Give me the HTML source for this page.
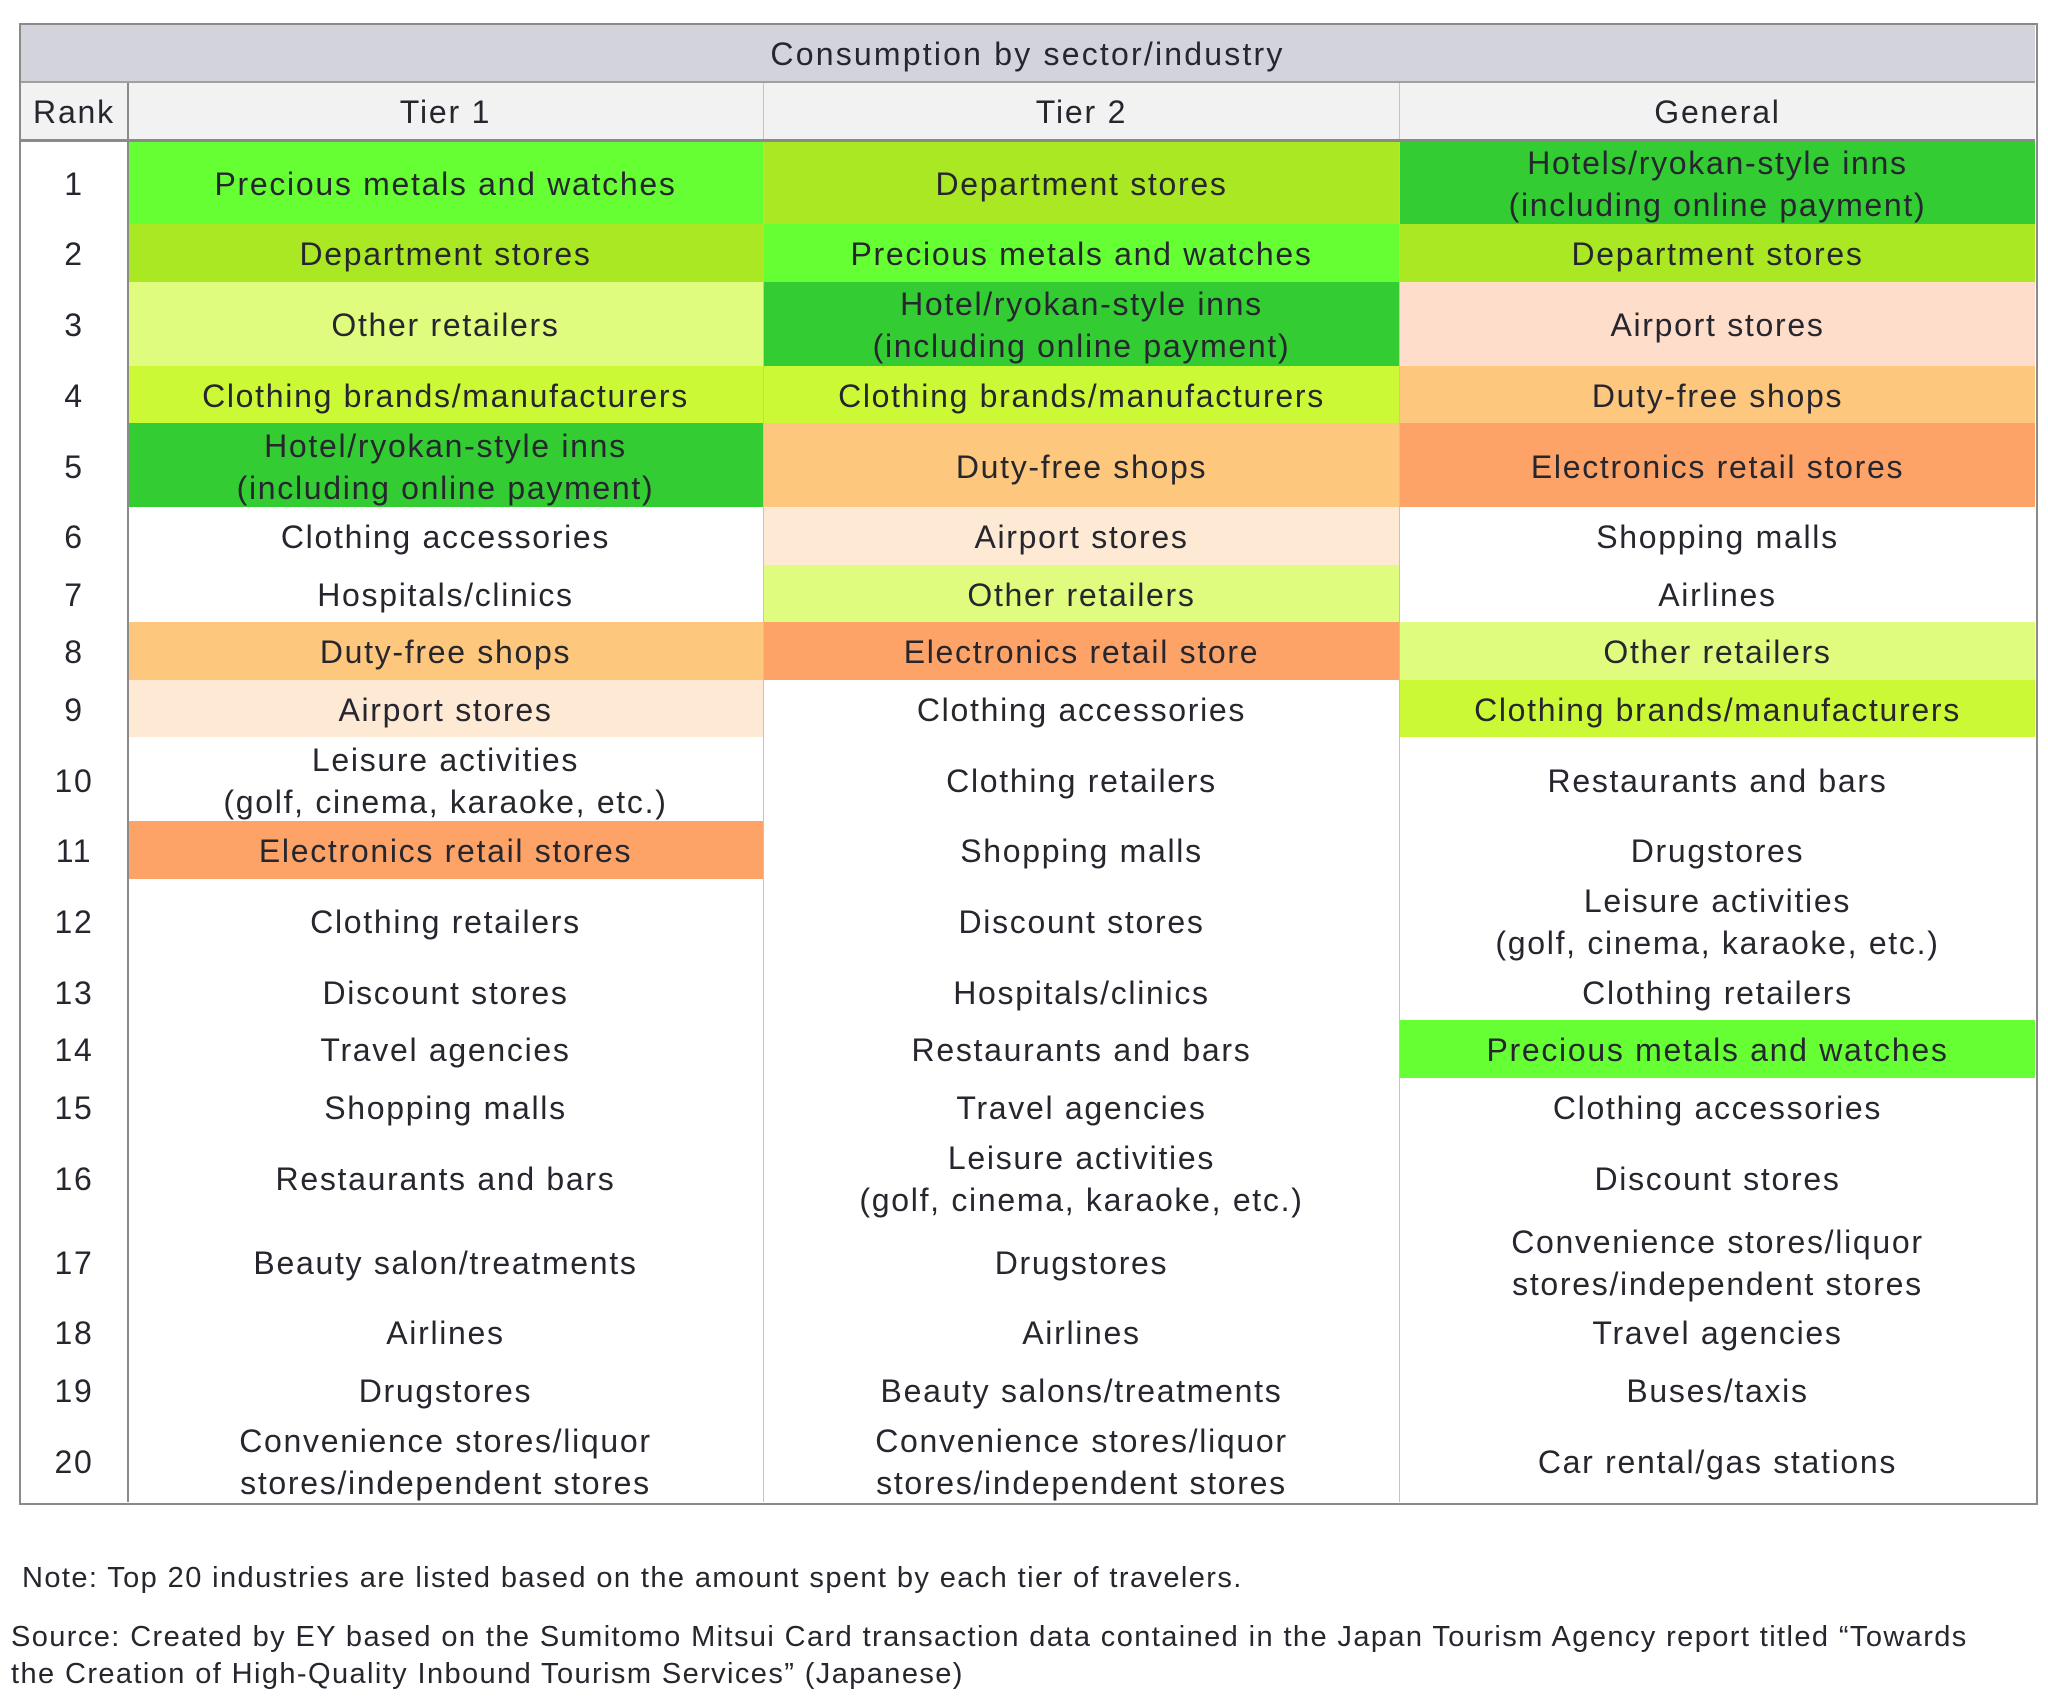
<!DOCTYPE html>
<html><head><meta charset="utf-8"><style>
body{margin:0;width:2048px;height:1702px;background:#fff;font-family:"Liberation Sans",sans-serif;color:#26262e;position:relative;overflow:hidden}
.abs{position:absolute}
.h1{left:20px;top:24px;width:2015px;height:58px;background:#d3d3db;display:flex;align-items:center;justify-content:center;font-size:32px;letter-spacing:2.2px;padding-top:3px;box-sizing:border-box}
.h2{left:20px;top:82px;width:2015px;height:58px;background:#f2f2f2;display:grid;grid-template-columns:108px 635px 637px 635px;font-size:32px;letter-spacing:1.8px;padding-top:3px;box-sizing:border-box}
.h2 div{display:flex;align-items:center;justify-content:center}
.g{left:20px;top:140px;width:2015px;height:1362px;display:grid;grid-template-columns:108px 635px 637px 635px;
grid-template-rows:84px 57.5px 84px 57.5px 84px 57.5px 57.5px 57.5px 57.5px 84px 57.5px 84px 57.5px 57.5px 57.5px 84px 84px 57.5px 57.5px 84px;font-size:32px;letter-spacing:1.7px;line-height:42px}
.g div{display:flex;align-items:center;justify-content:center;text-align:center;padding-top:3px}
.a{background:#66ff33}.b{background:#aae823}.c{background:#dffc7e}.d{background:#ccf935}.e{background:#33cc33}
.f{background:#fec77e}.p{background:#fee9d4}.q{background:#feddca}.o{background:#fea368}
.note{font-size:29px;letter-spacing:1.4px;line-height:37px}
</style></head><body>
<div class="abs h1">Consumption by sector/industry</div>
<div class="abs h2"><div>Rank</div><div>Tier 1</div><div>Tier 2</div><div>General</div></div>
<div class="abs g">
<div>1</div><div class="a">Precious metals and watches</div><div class="b">Department stores</div><div class="e">Hotels/ryokan-style inns<br>(including online payment)</div>
<div>2</div><div class="b">Department stores</div><div class="a">Precious metals and watches</div><div class="b">Department stores</div>
<div>3</div><div class="c">Other retailers</div><div class="e">Hotel/ryokan-style inns<br>(including online payment)</div><div class="q">Airport stores</div>
<div>4</div><div class="d">Clothing brands/manufacturers</div><div class="d">Clothing brands/manufacturers</div><div class="f">Duty-free shops</div>
<div>5</div><div class="e">Hotel/ryokan-style inns<br>(including online payment)</div><div class="f">Duty-free shops</div><div class="o">Electronics retail stores</div>
<div>6</div><div>Clothing accessories</div><div class="p">Airport stores</div><div>Shopping malls</div>
<div>7</div><div>Hospitals/clinics</div><div class="c">Other retailers</div><div>Airlines</div>
<div>8</div><div class="f">Duty-free shops</div><div class="o">Electronics retail store</div><div class="c">Other retailers</div>
<div>9</div><div class="p">Airport stores</div><div>Clothing accessories</div><div class="d">Clothing brands/manufacturers</div>
<div>10</div><div>Leisure activities<br>(golf, cinema, karaoke, etc.)</div><div>Clothing retailers</div><div>Restaurants and bars</div>
<div>11</div><div class="o">Electronics retail stores</div><div>Shopping malls</div><div>Drugstores</div>
<div>12</div><div>Clothing retailers</div><div>Discount stores</div><div>Leisure activities<br>(golf, cinema, karaoke, etc.)</div>
<div>13</div><div>Discount stores</div><div>Hospitals/clinics</div><div>Clothing retailers</div>
<div>14</div><div>Travel agencies</div><div>Restaurants and bars</div><div class="a">Precious metals and watches</div>
<div>15</div><div>Shopping malls</div><div>Travel agencies</div><div>Clothing accessories</div>
<div>16</div><div>Restaurants and bars</div><div>Leisure activities<br>(golf, cinema, karaoke, etc.)</div><div>Discount stores</div>
<div>17</div><div>Beauty salon/treatments</div><div>Drugstores</div><div>Convenience stores/liquor<br>stores/independent stores</div>
<div>18</div><div>Airlines</div><div>Airlines</div><div>Travel agencies</div>
<div>19</div><div>Drugstores</div><div>Beauty salons/treatments</div><div>Buses/taxis</div>
<div>20</div><div>Convenience stores/liquor<br>stores/independent stores</div><div>Convenience stores/liquor<br>stores/independent stores</div><div>Car rental/gas stations</div>
</div>
<div class="abs" style="left:763px;top:82px;width:1px;height:1420px;background:#c4c4c4"></div>
<div class="abs" style="left:1399px;top:82px;width:1px;height:1420px;background:#c4c4c4"></div>
<div class="abs" style="left:127px;top:82px;width:2px;height:1420px;background:#8a8a8a"></div>
<div class="abs" style="left:20px;top:81px;width:2015px;height:2px;background:#a0a0a0"></div>
<div class="abs" style="left:20px;top:139px;width:2015px;height:3px;background:#8a8a8a"></div>
<div class="abs" style="left:19px;top:23px;width:2015px;height:1478px;border:2px solid #8a8a8a"></div>
<div class="abs note" style="left:22px;top:1560px">Note: Top 20 industries are listed based on the amount spent by each tier of travelers.</div>
<div class="abs note" style="left:11px;top:1619px;width:2036px">Source: Created by EY based on the Sumitomo Mitsui Card transaction data contained in the Japan Tourism Agency report titled “Towards<br>the Creation of High-Quality Inbound Tourism Services” (Japanese)</div>
</body></html>
